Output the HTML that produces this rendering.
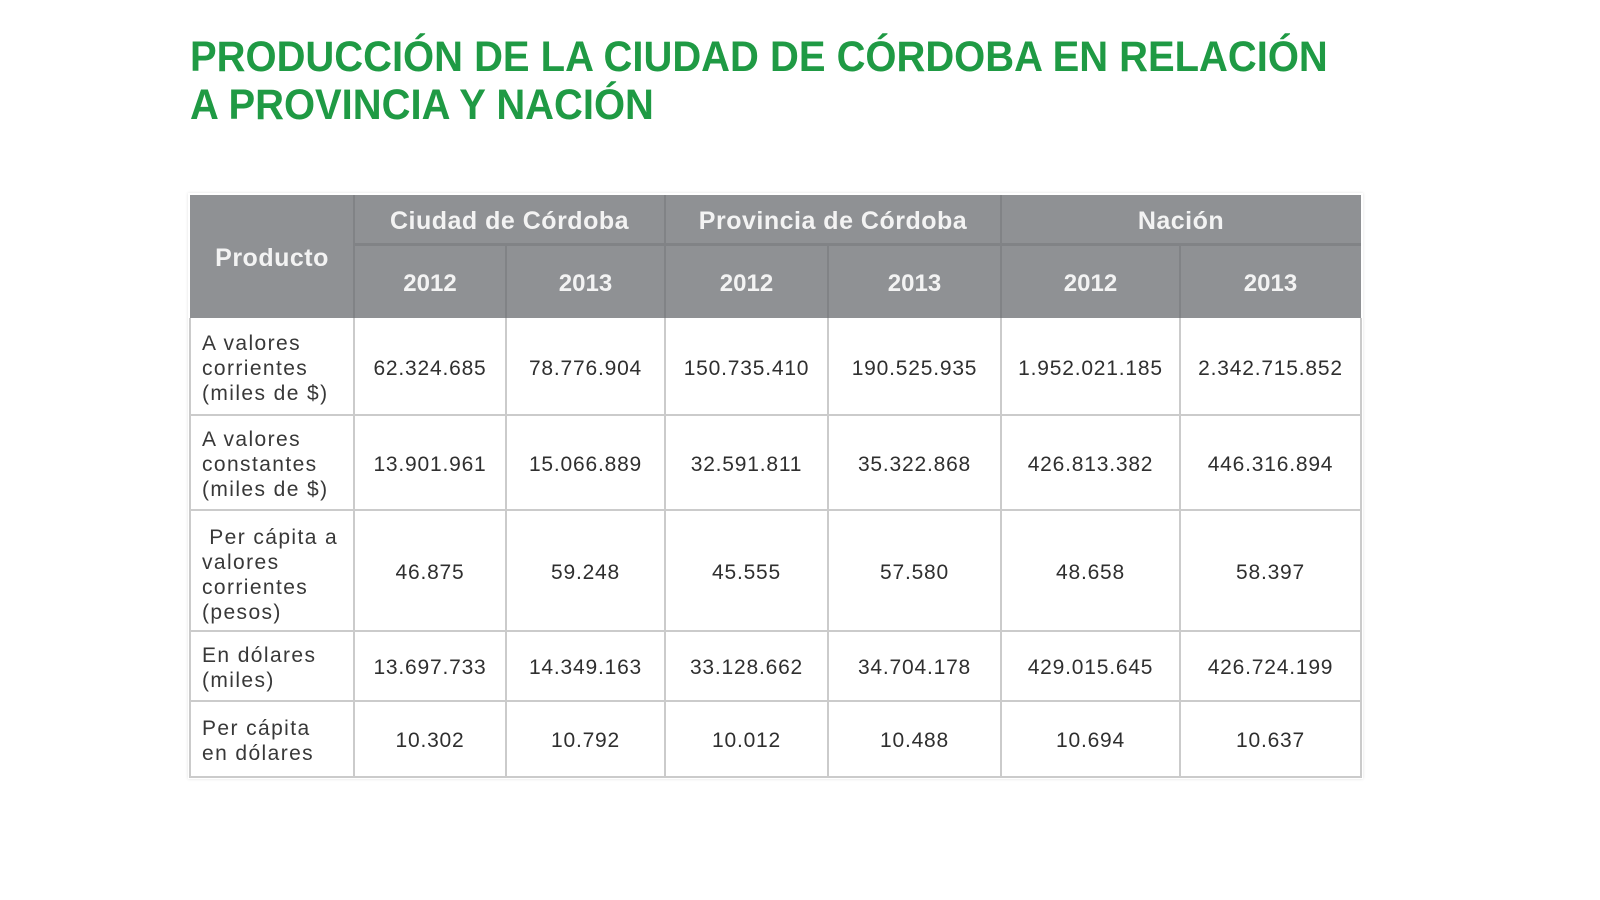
<!DOCTYPE html>
<html><head><meta charset="utf-8"><style>
*{margin:0;padding:0;box-sizing:border-box}
html,body{width:1600px;height:900px;background:#fff;overflow:hidden}
body{position:relative;font-family:"Liberation Sans",sans-serif}
.title{position:absolute;left:190px;top:34px;font-size:43px;line-height:47.6px;font-weight:bold;color:#1f9a44;white-space:nowrap;transform:scaleX(0.929);transform-origin:0 0}
.hdr{position:absolute;left:190px;top:195px;width:1171px;height:123px;background:#8f9194}
.hl{position:absolute;background:#818386}
.dl{position:absolute;background:#cbcbcb}
.c{position:absolute;display:flex;align-items:center;justify-content:center;white-space:nowrap;transform:translateY(2px)}
.h{color:#f3f3f3;font-weight:bold;font-size:25px;letter-spacing:0.5px}
.y{color:#f3f3f3;font-weight:bold;font-size:24px}
.n{color:#2f2f2f;font-size:21px;letter-spacing:0.8px}
.l{position:absolute;display:flex;align-items:center;color:#383838;font-size:21px;line-height:25px;letter-spacing:1.4px;white-space:nowrap;padding-left:12px;transform:translateY(2px)}
</style></head><body>
<div class="title">PRODUCCIÓN DE LA CIUDAD DE CÓRDOBA EN RELACIÓN<br>A PROVINCIA Y NACIÓN</div>

<div style="position:absolute;left:188px;top:193px;width:1175px;height:586px;box-shadow:0 0 3px rgba(0,0,0,0.12)"></div>
<div class="hdr"></div>
<!-- header lines -->
<div class="hl" style="left:354px;top:243px;width:1007px;height:3px"></div>
<div class="hl" style="left:353px;top:195px;width:2px;height:123px"></div>
<div class="hl" style="left:664px;top:195px;width:2px;height:123px"></div>
<div class="hl" style="left:1000px;top:195px;width:2px;height:123px"></div>
<div class="hl" style="left:505px;top:244px;width:2px;height:74px"></div>
<div class="hl" style="left:827px;top:244px;width:2px;height:74px"></div>
<div class="hl" style="left:1179px;top:244px;width:2px;height:74px"></div>

<!-- data grid lines -->
<div class="dl" style="left:189px;top:318px;width:2px;height:460px"></div>
<div class="dl" style="left:353px;top:318px;width:2px;height:460px"></div>
<div class="dl" style="left:505px;top:318px;width:2px;height:460px"></div>
<div class="dl" style="left:664px;top:318px;width:2px;height:460px"></div>
<div class="dl" style="left:827px;top:318px;width:2px;height:460px"></div>
<div class="dl" style="left:1000px;top:318px;width:2px;height:460px"></div>
<div class="dl" style="left:1179px;top:318px;width:2px;height:460px"></div>
<div class="dl" style="left:1360px;top:318px;width:2px;height:460px"></div>
<div class="dl" style="left:189px;top:414px;width:1173px;height:2px"></div>
<div class="dl" style="left:189px;top:509px;width:1173px;height:2px"></div>
<div class="dl" style="left:189px;top:630px;width:1173px;height:2px"></div>
<div class="dl" style="left:189px;top:700px;width:1173px;height:2px"></div>
<div class="dl" style="left:189px;top:776px;width:1173px;height:2px"></div>

<!-- header text -->
<div class="c h" style="left:190px;top:194px;width:164px;height:124px">Producto</div>
<div class="c h" style="left:354px;top:194px;width:311px;height:50px">Ciudad de Córdoba</div>
<div class="c h" style="left:665px;top:194px;width:336px;height:50px">Provincia de Córdoba</div>
<div class="c h" style="left:1001px;top:194px;width:360px;height:50px">Nación</div>
<div class="c y" style="left:354px;top:245px;width:152px;height:73px">2012</div>
<div class="c y" style="left:506px;top:245px;width:159px;height:73px">2013</div>
<div class="c y" style="left:665px;top:245px;width:163px;height:73px">2012</div>
<div class="c y" style="left:828px;top:245px;width:173px;height:73px">2013</div>
<div class="c y" style="left:1001px;top:245px;width:179px;height:73px">2012</div>
<div class="c y" style="left:1180px;top:245px;width:181px;height:73px">2013</div>

<!-- labels -->
<div class="l" style="left:190px;top:318px;height:97px"><div>A valores<br>corrientes<br>(miles de $)</div></div>
<div class="l" style="left:190px;top:415px;height:95px"><div>A valores<br>constantes<br>(miles de $)</div></div>
<div class="l" style="left:190px;top:512px;height:121px"><div>&nbsp;Per cápita a<br>valores<br>corrientes<br>(pesos)</div></div>
<div class="l" style="left:190px;top:631px;height:70px"><div>En dólares<br>(miles)</div></div>
<div class="l" style="left:190px;top:701px;height:76px"><div>Per cápita<br>en dólares</div></div>

<!-- row 1 -->
<div class="c n" style="left:354px;top:318px;width:152px;height:97px">62.324.685</div>
<div class="c n" style="left:506px;top:318px;width:159px;height:97px">78.776.904</div>
<div class="c n" style="left:665px;top:318px;width:163px;height:97px">150.735.410</div>
<div class="c n" style="left:828px;top:318px;width:173px;height:97px">190.525.935</div>
<div class="c n" style="left:1001px;top:318px;width:179px;height:97px">1.952.021.185</div>
<div class="c n" style="left:1180px;top:318px;width:181px;height:97px">2.342.715.852</div>
<!-- row 2 -->
<div class="c n" style="left:354px;top:415px;width:152px;height:95px">13.901.961</div>
<div class="c n" style="left:506px;top:415px;width:159px;height:95px">15.066.889</div>
<div class="c n" style="left:665px;top:415px;width:163px;height:95px">32.591.811</div>
<div class="c n" style="left:828px;top:415px;width:173px;height:95px">35.322.868</div>
<div class="c n" style="left:1001px;top:415px;width:179px;height:95px">426.813.382</div>
<div class="c n" style="left:1180px;top:415px;width:181px;height:95px">446.316.894</div>
<!-- row 3 -->
<div class="c n" style="left:354px;top:510px;width:152px;height:121px">46.875</div>
<div class="c n" style="left:506px;top:510px;width:159px;height:121px">59.248</div>
<div class="c n" style="left:665px;top:510px;width:163px;height:121px">45.555</div>
<div class="c n" style="left:828px;top:510px;width:173px;height:121px">57.580</div>
<div class="c n" style="left:1001px;top:510px;width:179px;height:121px">48.658</div>
<div class="c n" style="left:1180px;top:510px;width:181px;height:121px">58.397</div>
<!-- row 4 -->
<div class="c n" style="left:354px;top:631px;width:152px;height:70px">13.697.733</div>
<div class="c n" style="left:506px;top:631px;width:159px;height:70px">14.349.163</div>
<div class="c n" style="left:665px;top:631px;width:163px;height:70px">33.128.662</div>
<div class="c n" style="left:828px;top:631px;width:173px;height:70px">34.704.178</div>
<div class="c n" style="left:1001px;top:631px;width:179px;height:70px">429.015.645</div>
<div class="c n" style="left:1180px;top:631px;width:181px;height:70px">426.724.199</div>
<!-- row 5 -->
<div class="c n" style="left:354px;top:701px;width:152px;height:76px">10.302</div>
<div class="c n" style="left:506px;top:701px;width:159px;height:76px">10.792</div>
<div class="c n" style="left:665px;top:701px;width:163px;height:76px">10.012</div>
<div class="c n" style="left:828px;top:701px;width:173px;height:76px">10.488</div>
<div class="c n" style="left:1001px;top:701px;width:179px;height:76px">10.694</div>
<div class="c n" style="left:1180px;top:701px;width:181px;height:76px">10.637</div>
</body></html>
